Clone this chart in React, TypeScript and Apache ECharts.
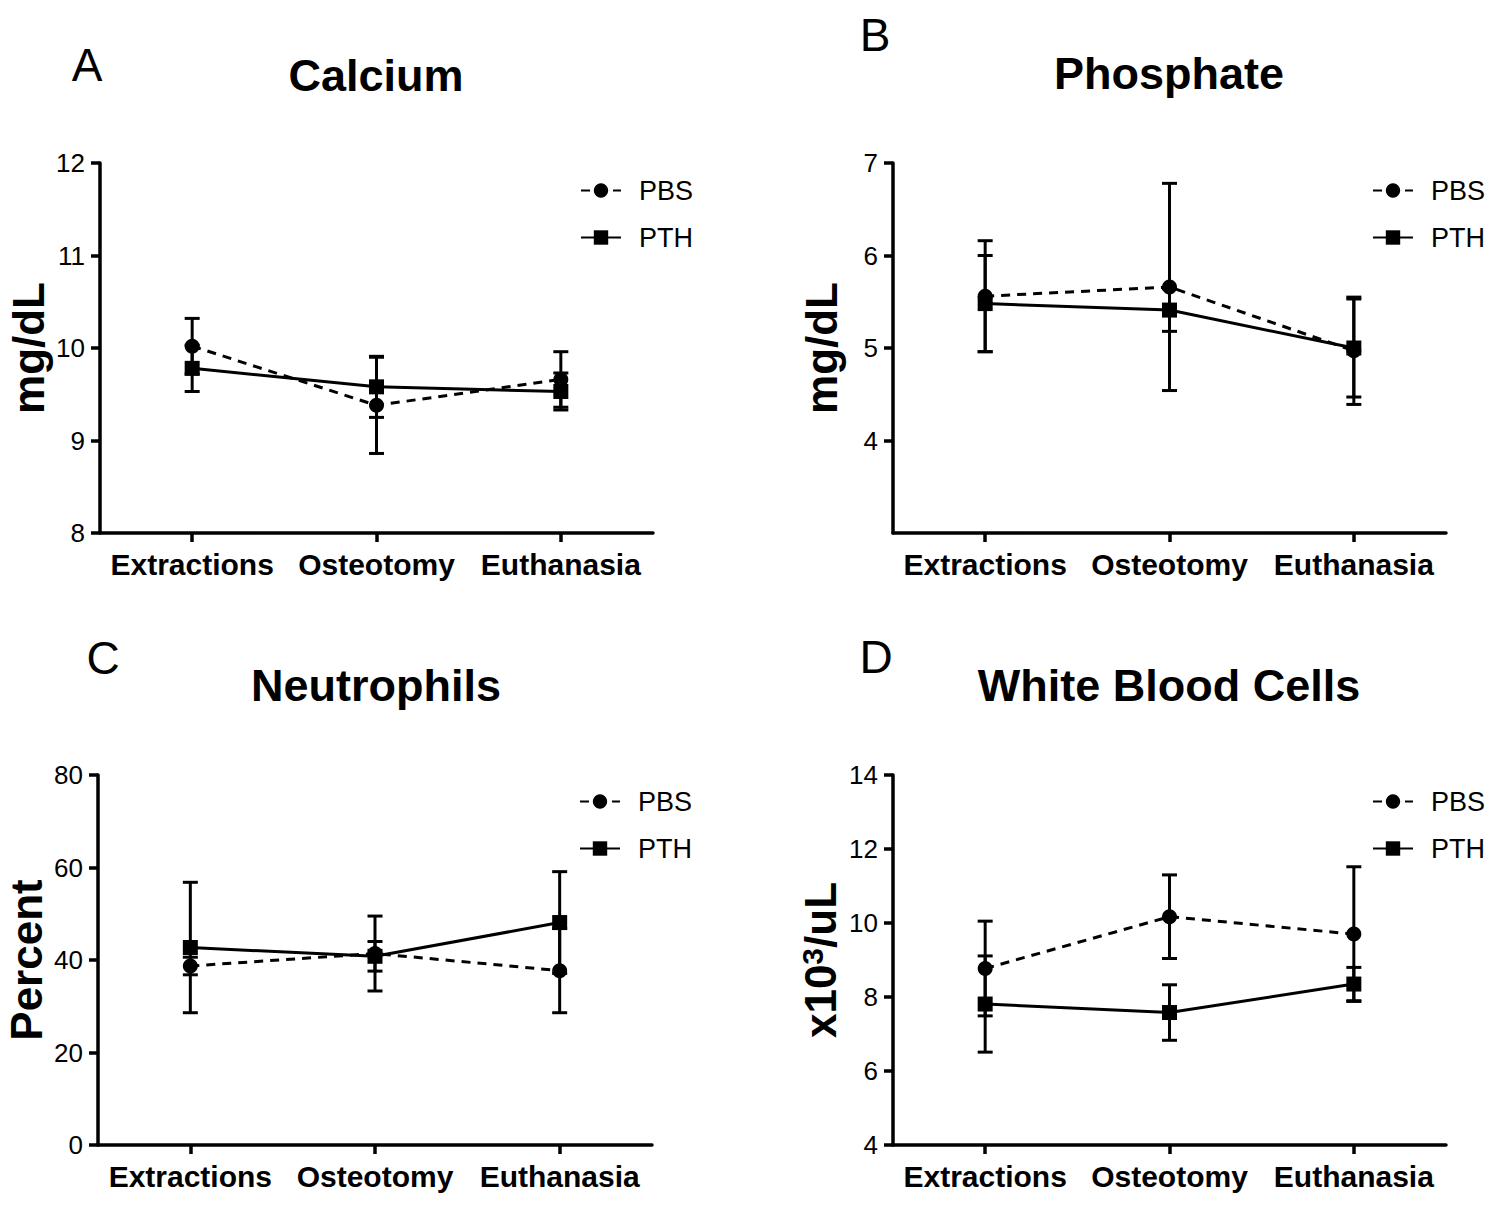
import React, { useEffect, useRef } from "react";
import * as echarts from "echarts";

const FONT = "'Liberation Sans', Arial, Helvetica, sans-serif";

const categories = ["Extractions", "Osteotomy", "Euthanasia"];

// Calcium (mg/dL)
const calciumPBS = [10.02, 9.38, 9.66];
const calciumPBSErr = [0.3, 0.52, 0.3];
const calciumPTH = [9.78, 9.58, 9.53];
const calciumPTHErr = [0.25, 0.33, 0.2];

// Phosphate (mg/dL)
const phosphatePBS = [5.56, 5.66, 4.97];
const phosphatePBSErr = [0.6, 1.12, 0.58];
const phosphatePTH = [5.48, 5.41, 5.0];
const phosphatePTHErr = [0.52, 0.23, 0.53];

// Neutrophils (Percent)
const neutrophilsPBS = [38.7, 41.4, 37.7];
const neutrophilsPBSErr = [1.9, 8.1, 9.1];
const neutrophilsPTH = [42.7, 40.8, 48.1];
const neutrophilsPTHErr = [14.1, 3.2, 11.0];

// White Blood Cells (x10^3/uL)
const wbcPBS = [8.77, 10.17, 9.7];
const wbcPBSErr = [1.28, 1.13, 1.82];
const wbcPTH = [7.81, 7.58, 8.35];
const wbcPTHErr = [1.3, 0.75, 0.45];

const seriesNames = ["PBS", "PTH"];

const panels = [
  {
    letter: "A", title: "Calcium", yName: "mg/dL", min: 8, max: 12, interval: 1, hideMin: false,
    pbs: calciumPBS, pbsErr: calciumPBSErr, pth: calciumPTH, pthErr: calciumPTHErr,
    grid: { left: 100, top: 163, width: 553, height: 370 },
    letterPos: [87, 65], titlePos: [376, 75], legendPos: [580, 177],
  },
  {
    letter: "B", title: "Phosphate", yName: "mg/dL", min: 3, max: 7, interval: 1, hideMin: true,
    pbs: phosphatePBS, pbsErr: phosphatePBSErr, pth: phosphatePTH, pthErr: phosphatePTHErr,
    grid: { left: 893, top: 163, width: 553, height: 370 },
    letterPos: [875, 35], titlePos: [1169, 73], legendPos: [1372, 177],
  },
  {
    letter: "C", title: "Neutrophils", yName: "Percent", min: 0, max: 80, interval: 20, hideMin: false,
    pbs: neutrophilsPBS, pbsErr: neutrophilsPBSErr, pth: neutrophilsPTH, pthErr: neutrophilsPTHErr,
    grid: { left: 98, top: 775, width: 554, height: 370 },
    letterPos: [103, 658], titlePos: [376, 685], legendPos: [579, 788],
  },
  {
    letter: "D", title: "White Blood Cells", yName: "{a|x10}{b|3}{a|/uL}", min: 4, max: 14, interval: 2, hideMin: false,
    pbs: wbcPBS, pbsErr: wbcPBSErr, pth: wbcPTH, pthErr: wbcPTHErr,
    grid: { left: 893, top: 775, width: 553, height: 370 },
    letterPos: [876, 657], titlePos: [1169, 685], legendPos: [1372, 788],
  },
];

function errorBarRender(params: any, api: any) {
  const x = api.value(0);
  const lo = api.coord([x, api.value(1)]);
  const hi = api.coord([x, api.value(2)]);
  const cw = 7.5;
  const st = { stroke: "#000", lineWidth: 3, fill: "none" };
  return {
    type: "group",
    children: [
      { type: "line", shape: { x1: lo[0], y1: lo[1], x2: hi[0], y2: hi[1] }, style: st },
      { type: "line", shape: { x1: hi[0] - cw, y1: hi[1], x2: hi[0] + cw, y2: hi[1] }, style: st },
      { type: "line", shape: { x1: lo[0] - cw, y1: lo[1], x2: lo[0] + cw, y2: lo[1] }, style: st },
    ],
  };
}

export default function App() {
  const ref = useRef<HTMLDivElement>(null);

  useEffect(() => {
    document.body.style.margin = "0";
    if (!ref.current) return;
    const chart = echarts.init(ref.current, null, { renderer: "svg" });

    const grids: any[] = [];
    const xAxes: any[] = [];
    const yAxes: any[] = [];
    const series: any[] = [];
    const legends: any[] = [];
    const graphics: any[] = [];

    panels.forEach((p, i) => {
      grids.push({ ...p.grid, containLabel: false });
      xAxes.push({
        type: "category",
        gridIndex: i,
        data: categories,
        boundaryGap: true,
        axisLine: { show: true, lineStyle: { color: "#000", width: 3.5 } },
        axisTick: { show: true, alignWithLabel: true, length: 9, lineStyle: { color: "#000", width: 3.5 } },
        axisLabel: { interval: 0, fontSize: 30, fontWeight: "bold", color: "#000", fontFamily: FONT, margin: 16 },
        splitLine: { show: false },
      });
      yAxes.push({
        type: "value",
        gridIndex: i,
        min: p.min,
        max: p.max,
        interval: p.interval,
        axisLine: { show: true, lineStyle: { color: "#000", width: 3.5 } },
        axisTick: { show: true, length: 9, lineStyle: { color: "#000", width: 3.5 } },
        axisLabel: { fontSize: 26, color: "#000", fontFamily: FONT, margin: 15, showMinLabel: !p.hideMin },
        splitLine: { show: false },
        name: p.yName,
        nameLocation: "middle",
        nameGap: 50,
        nameTextStyle: {
          fontSize: 44,
          fontWeight: "bold",
          color: "#000",
          fontFamily: FONT,
          rich: {
            a: { fontSize: 44, fontWeight: "bold", color: "#000", fontFamily: FONT, lineHeight: 46 },
            b: { fontSize: 30, fontWeight: "bold", color: "#000", fontFamily: FONT, verticalAlign: "top", lineHeight: 46 },
          },
        },
      });

      const pbsErrData = categories.map((c, j) => [j, p.pbs[j] - p.pbsErr[j], p.pbs[j] + p.pbsErr[j]]);
      const pthErrData = categories.map((c, j) => [j, p.pth[j] - p.pthErr[j], p.pth[j] + p.pthErr[j]]);

      series.push({
        type: "custom", name: "PBS error", xAxisIndex: i, yAxisIndex: i,
        renderItem: errorBarRender, data: pbsErrData, encode: { x: 0, y: [1, 2] }, z: 2, silent: true,
      });
      series.push({
        type: "custom", name: "PTH error", xAxisIndex: i, yAxisIndex: i,
        renderItem: errorBarRender, data: pthErrData, encode: { x: 0, y: [1, 2] }, z: 2, silent: true,
      });
      series.push({
        type: "line", name: seriesNames[0], xAxisIndex: i, yAxisIndex: i,
        data: p.pbs, symbol: "circle", symbolSize: 15,
        lineStyle: { color: "#000", width: 3, type: [9, 7] },
        itemStyle: { color: "#000" }, z: 3,
      });
      series.push({
        type: "line", name: seriesNames[1], xAxisIndex: i, yAxisIndex: i,
        data: p.pth, symbol: "rect", symbolSize: 15,
        lineStyle: { color: "#000", width: 3, type: "solid" },
        itemStyle: { color: "#000" }, z: 3,
      });

      legends.push({
        data: seriesNames,
        orient: "vertical",
        left: p.legendPos[0],
        top: p.legendPos[1],
        padding: 0,
        itemWidth: 40,
        itemHeight: 18,
        itemGap: 20,
        selectedMode: false,
        textStyle: { fontSize: 27, color: "#000", fontFamily: FONT, lineHeight: 26, padding: [0, 0, 0, 13] },
      });

      graphics.push({
        type: "text", x: p.titlePos[0], y: p.titlePos[1],
        style: { text: p.title, fontSize: 45, fontWeight: "bold", fontFamily: FONT, fill: "#000", align: "center", verticalAlign: "middle" },
      });
      graphics.push({
        type: "text", x: p.letterPos[0], y: p.letterPos[1],
        style: { text: p.letter, fontSize: 46, fontFamily: FONT, fill: "#000", align: "center", verticalAlign: "middle" },
      });
    });

    chart.setOption({
      animation: false,
      backgroundColor: "#fff",
      grid: grids,
      xAxis: xAxes,
      yAxis: yAxes,
      legend: legends,
      series,
      graphic: graphics,
    });

    return () => chart.dispose();
  }, []);

  return <div ref={ref} style={{ width: 1500, height: 1205 }} />;
}
